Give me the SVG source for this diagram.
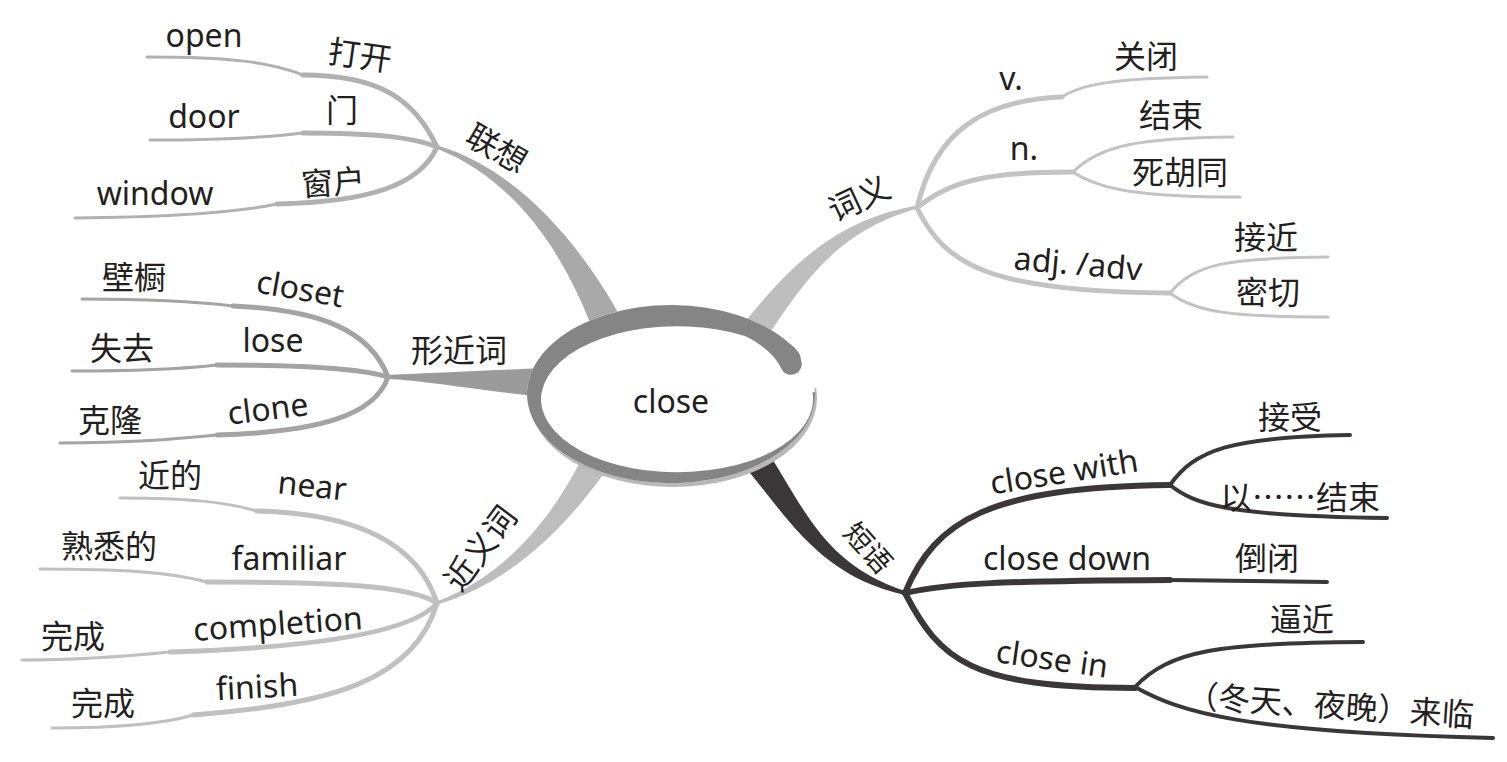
<svg xmlns="http://www.w3.org/2000/svg" width="1507" height="762" viewBox="0 0 1507 762">
<style>
.en{font-family:"Noto Sans","Open Sans",sans-serif;font-size:32px;fill:#231f20;text-anchor:middle}
.zh{font-family:"Noto Sans CJK SC","Noto Sans",sans-serif;font-size:32px;fill:#231f20;text-anchor:middle}
.l{fill:none;stroke-linecap:round;stroke-linejoin:round}
.g1{stroke:#b1b1b1}.g2{stroke:#a4a4a4}.g3{stroke:#c0c0c0}.g4{stroke:#c3c3c3}.dk{stroke:#3b3637}
.w1{stroke-width:5}.w2{stroke-width:3}.d1{stroke-width:6}.d2{stroke-width:4}
</style>
<defs>
  <clipPath id="shadowClip"><rect x="500" y="388" width="340" height="110"/></clipPath>
</defs>
<rect width="1507" height="762" fill="#ffffff"/>
<g id="connectors">
  <path d="M592,328 C566,259 518,180 436.5,148.4 L437.5,145.6 C521.6,170.3 584,251 620,316 Z" fill="#a9a9a9"/>
  <path d="M388,375 C430,373 480,371 545,368 L545,397 C480,391 430,381 388,379 Z" fill="#9b9b9b"/>
  <path d="M609,466 C578.6,510 521.6,580 437.5,604.4 L436.5,601.6 C518.4,570.3 561.4,500 585,452 Z" fill="#bdbdbd"/>
  <path d="M742,326 C792,262 838,220 916.7,205.5 L917.3,208.5 C842,230 808,274 764,342 Z" fill="#bebebe"/>
  <path d="M763,445 C803,504 821.6,564.2 905.5,591.1 L904.5,594.9 C818.4,575.8 787,516 741,462 Z" fill="#3b3637"/>
  <!-- 联想 -->
  <path class="l g1 w1" d="M437,147 C415,100 380,75 303,75"/>
  <path class="l g1 w2" d="M303,75 C270,62 230,57 147,57"/>
  <path class="l g1 w1" d="M437,147 C415,138 380,133 303,133"/>
  <path class="l g1 w2" d="M303,133 C270,137 230,140 150,140"/>
  <path class="l g1 w1" d="M437,147 C420,185 370,202 277,204"/>
  <path class="l g1 w2" d="M277,204 C240,212 170,217 75,218"/>
  <!-- 形近词 -->
  <path class="l g2 w1" d="M388,377 C370,330 320,310 233,306"/>
  <path class="l g2 w2" d="M233,306 C200,302 160,299 82,299"/>
  <path class="l g2 w1" d="M388,377 C360,368 300,365 217,365"/>
  <path class="l g2 w2" d="M217,365 C190,368 150,371 72,371"/>
  <path class="l g2 w1" d="M388,377 C375,415 320,432 217,435"/>
  <path class="l g2 w2" d="M217,435 C185,438 140,443 60,443"/>
  <!-- 近义词 -->
  <path class="l g3 w1" d="M437,603 C415,535 340,513 257,511"/>
  <path class="l g3 w2" d="M257,511 C225,502 190,498 120,498"/>
  <path class="l g3 w1" d="M437,603 C410,585 330,582 207,582"/>
  <path class="l g3 w2" d="M207,582 C170,572 120,569 40,569"/>
  <path class="l g3 w1" d="M437,603 C410,635 300,648 170,652"/>
  <path class="l g3 w2" d="M170,652 C140,655 90,660 22,660"/>
  <path class="l g3 w1" d="M437,603 C415,680 330,705 193,715"/>
  <path class="l g3 w2" d="M193,715 C160,725 110,728 52,728"/>
  <!-- 词义 -->
  <path class="l g4 w1" d="M917,208 C935,130 985,100 1062,97"/>
  <path class="l g4 w2" d="M1062,97 C1080,85 1110,78 1207,77"/>
  <path class="l g4 w1" d="M917,208 C950,180 990,172 1073,172"/>
  <path class="l g4 w2" d="M1073,172 C1100,145 1140,138 1233,137"/>
  <path class="l g4 w2" d="M1073,172 C1100,190 1140,197 1240,197"/>
  <path class="l g4 w1" d="M917,208 C945,265 990,292 1170,293"/>
  <path class="l g4 w2" d="M1170,293 C1195,263 1230,258 1328,257"/>
  <path class="l g4 w2" d="M1170,293 C1195,312 1230,317 1328,317"/>
  <!-- 短语 -->
  <path class="l dk d1" d="M905,593 C935,520 990,487 1170,485"/>
  <path class="l dk d2" d="M1170,485 C1195,450 1230,437 1350,435"/>
  <path class="l dk d2" d="M1170,485 C1195,505 1230,516 1387,518"/>
  <path class="l dk d1" d="M905,593 C950,583 1000,581 1170,580"/>
  <path class="l dk d2" d="M1170,580 L1327,582"/>
  <path class="l dk d1" d="M905,593 C940,660 970,688 1135,688"/>
  <path class="l dk d2" d="M1135,687 C1170,650 1220,643 1363,642"/>
  <path class="l dk d2" d="M1135,687 C1180,712 1240,732 1493,738"/>
</g>
<g id="center">
  <ellipse cx="673" cy="398" rx="144" ry="89" fill="#b8b8b8" clip-path="url(#shadowClip)"/>
  <ellipse cx="671" cy="394" rx="144" ry="89" fill="#ffffff"/>
  <path d="M815,392 A144 89 0 1 1 789,343 C796,348 801,354 801,360 A10.5 10.5 0 0 1 781,368 C775,355 760,343 745,336 A136 73 0 1 0 812.5,392.6 Z" fill="#858585"/>
  <text class="en" x="671" y="413">close</text>
</g>
<g id="n-lianxiang">
  <text class="zh" x="497" y="160" transform="rotate(30 497 148)">联想</text>
  <text class="zh" x="360" y="67" transform="rotate(8 360 55)">打开</text>
  <text class="en" x="204" y="47">open</text>
  <text class="zh" x="342" y="122">门</text>
  <text class="en" x="204" y="128">door</text>
  <text class="zh" x="333" y="194" transform="rotate(-4 333 182)">窗户</text>
  <text class="en" x="155" y="205">window</text>
</g>
<g id="n-xingjinci">
  <text class="zh" x="459" y="362">形近词</text>
  <text class="en" x="300" y="300" transform="rotate(10 300 290)">closet</text>
  <text class="zh" x="134" y="289">壁橱</text>
  <text class="en" x="273" y="352">lose</text>
  <text class="zh" x="122" y="360">失去</text>
  <text class="en" x="268" y="420" transform="rotate(-7 268 410)">clone</text>
  <text class="zh" x="110" y="432">克隆</text>
</g>
<g id="n-jinyici">
  <text class="zh" x="480" y="560" transform="rotate(-53 480 548)">近义词</text>
  <text class="en" x="312" y="497" transform="rotate(6 312 488)">near</text>
  <text class="zh" x="170" y="487">近的</text>
  <text class="en" x="289" y="570">familiar</text>
  <text class="zh" x="109" y="558">熟悉的</text>
  <text class="en" x="278" y="635" transform="rotate(-4 278 625)">completion</text>
  <text class="zh" x="73" y="648">完成</text>
  <text class="en" x="257" y="698" transform="rotate(-3 257 688)">finish</text>
  <text class="zh" x="103" y="715">完成</text>
</g>
<g id="n-ciyi">
  <text class="zh" x="859" y="210" transform="rotate(-25 859 198)">词义</text>
  <text class="en" x="1011" y="90">v.</text>
  <text class="zh" x="1146" y="68">关闭</text>
  <text class="en" x="1024" y="160">n.</text>
  <text class="zh" x="1171" y="127">结束</text>
  <text class="zh" x="1180" y="184">死胡同</text>
  <text class="en" x="1078" y="275" transform="rotate(5 1078 265)">adj. /adv</text>
  <text class="zh" x="1266" y="249">接近</text>
  <text class="zh" x="1268" y="304">密切</text>
</g>
<g id="n-duanyu">
  <text class="zh" x="868" y="558" style="font-size:28px" transform="rotate(48 868 548)">短语</text>
  <text class="en" x="1064" y="483" transform="rotate(-9 1064 472)">close with</text>
  <text class="zh" x="1290" y="429">接受</text>
  <text class="zh" x="1300" y="509">以……结束</text>
  <text class="en" x="1067" y="570">close down</text>
  <text class="zh" x="1267" y="570">倒闭</text>
  <text class="en" x="1052" y="670" transform="rotate(8 1052 660)">close in</text>
  <text class="zh" x="1302" y="631">逼近</text>
  <text class="zh" x="1330" y="717" transform="rotate(4 1330 705)">（冬天、夜晚）来临</text>
</g>
</svg>
